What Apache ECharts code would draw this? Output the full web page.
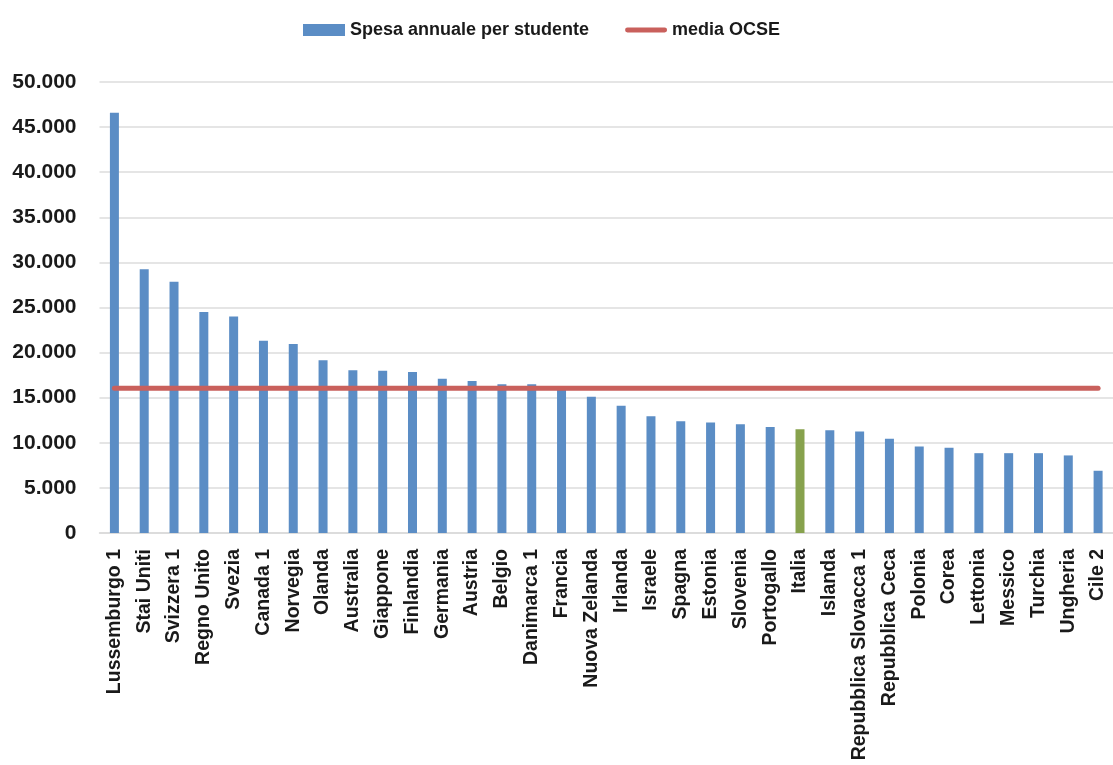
<!DOCTYPE html>
<html>
<head>
<meta charset="utf-8">
<script src="https://cdn.jsdelivr.net/npm/echarts@6/dist/echarts.min.js"></script>
<style>
  html, body { margin: 0; padding: 0; background: #ffffff; }
  #chart { width: 1113px; height: 765px; }
</style>
</head>
<body>
<div id="chart"></div>
<script>
// Spesa annuale per studente (OCSE), paesi in ordine decrescente
const paesi = [
  'Lussemburgo 1', 'Stai Uniti', 'Svizzera 1', 'Regno Unito', 'Svezia', 'Canada 1',
  'Norvegia', 'Olanda', 'Australia', 'Giappone', 'Finlandia', 'Germania', 'Austria',
  'Belgio', 'Danimarca 1', 'Francia', 'Nuova Zelanda', 'Irlanda', 'Israele', 'Spagna',
  'Estonia', 'Slovenia', 'Portogallo', 'Italia', 'Islanda', 'Repubblica Slovacca 1',
  'Repubblica Ceca', 'Polonia', 'Corea', 'Lettonia', 'Messico', 'Turchia', 'Ungheria', 'Cile 2'
];
const spesa = [
  46600, 29250, 27850, 24500, 24000, 21300,
  20950, 19150, 18050, 18000, 17850, 17100, 16850,
  16500, 16500, 15900, 15100, 14100, 12950, 12400,
  12250, 12050, 11750, 11500, 11400, 11250,
  10450, 9600, 9450, 8850, 8850, 8850, 8600, 6900
];
const mediaOCSE = 16050;
const paeseEvidenziato = 'Italia';
const tickY = [0, 5000, 10000, 15000, 20000, 25000, 30000, 35000, 40000, 45000, 50000];

const BLU = '#5B8DC5';
const VERDE = '#87A24D';
const ROSSO = '#C9605C';
const FONT = 'Liberation Sans';

// separatore delle migliaia all'italiana: 50000 -> 50.000
function migliaia(v) {
  return String(v).replace(/\B(?=(\d{3})+(?!\d))/g, '.');
}

// icona di legenda: barretta orizzontale con estremi arrotondati
const ICONA_LINEA = 'path://M2.5,0 L41.5,0 A2.5,2.5 0 0 1 41.5,5 L2.5,5 A2.5,2.5 0 0 1 2.5,0 Z';

const chart = echarts.init(document.getElementById('chart'), null, { renderer: 'canvas' });

chart.setOption({
  animation: false,
  backgroundColor: '#ffffff',
  textStyle: { fontFamily: FONT },
  legend: {
    left: 298,
    top: 16,
    itemWidth: 42,
    itemHeight: 12,
    itemGap: 36,
    symbolKeepAspect: true,
    textStyle: { fontFamily: FONT, fontWeight: 'bold', fontSize: 18, color: '#1a1a1a' },
    data: [
      { name: 'Spesa annuale per studente', icon: 'rect' },
      { name: 'media OCSE', icon: ICONA_LINEA, itemStyle: { color: ROSSO } }
    ]
  },
  grid: {
    left: 99.5,
    top: 82,
    width: 1018.5,
    height: 451,
    containLabel: false
  },
  xAxis: {
    type: 'category',
    data: paesi,
    boundaryGap: true,
    axisLine: { show: true, lineStyle: { color: '#d9d9d9', width: 1.5 } },
    axisTick: { show: false },
    axisLabel: {
      interval: 0,
      rotate: 90,
      margin: 16,
      fontFamily: FONT,
      fontWeight: 'bold',
      fontSize: 19.5,
      color: '#1a1a1a'
    }
  },
  yAxis: {
    type: 'value',
    min: tickY[0],
    max: tickY[tickY.length - 1],
    interval: tickY[1] - tickY[0],
    axisLine: { show: false },
    axisTick: { show: false },
    splitLine: { show: true, lineStyle: { color: '#dcdcdc', width: 1.5 } },
    axisLabel: {
      margin: 23,
      fontFamily: FONT,
      fontWeight: 'bold',
      fontSize: 21,
      color: '#1a1a1a',
      padding: [4, 0, 0, 0],
      formatter: migliaia
    }
  },
  series: [
    {
      name: 'Spesa annuale per studente',
      type: 'bar',
      barWidth: 9,
      itemStyle: { color: BLU },
      data: spesa.map((v, i) => ({
        value: v,
        itemStyle: paesi[i] === paeseEvidenziato ? { color: VERDE } : undefined
      }))
    },
    {
      name: 'media OCSE',
      type: 'line',
      symbol: 'none',
      z: 5,
      lineStyle: { color: ROSSO, width: 5, cap: 'round' },
      itemStyle: { color: ROSSO },
      data: [[paesi[0], mediaOCSE], [paesi[paesi.length - 1], mediaOCSE]]
    }
  ]
});
</script>
</body>
</html>
